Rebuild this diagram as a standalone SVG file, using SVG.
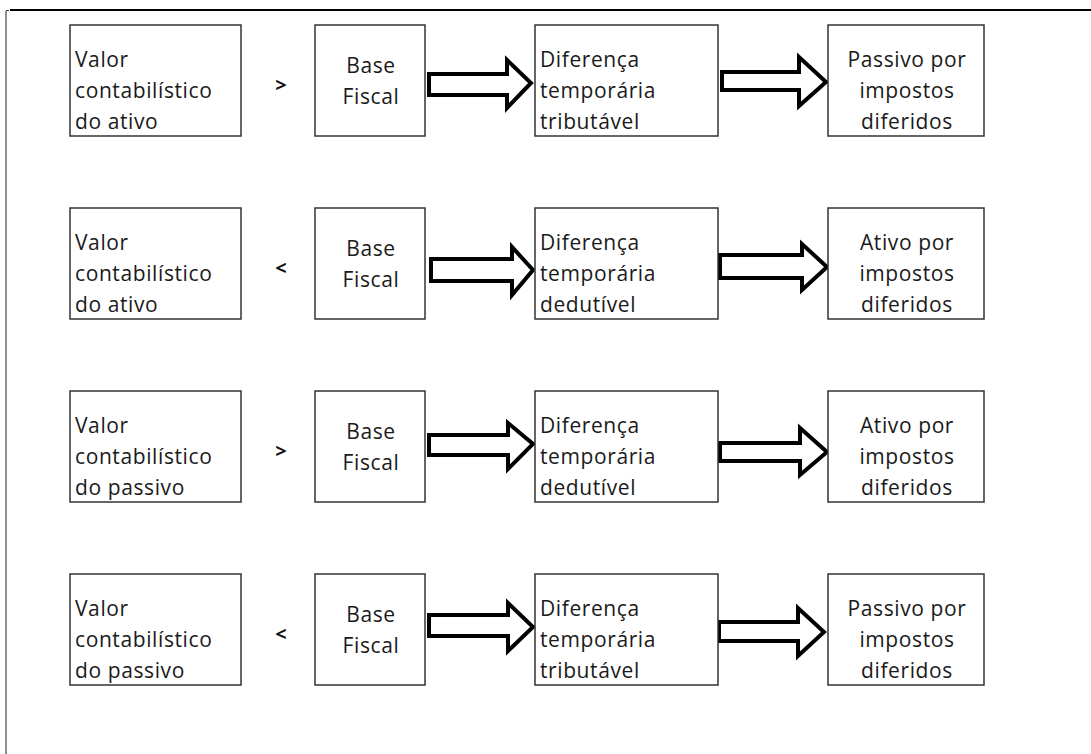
<svg xmlns="http://www.w3.org/2000/svg" width="1091" height="754" viewBox="0 0 1091 754">
<style>
.box{fill:#fff;stroke:#333;stroke-width:1.5}
.t{font-family:"Open Sans","Noto Sans",sans-serif;font-size:21px;letter-spacing:0.6px;fill:#1a1a1a}
.c{text-anchor:middle}
.op{font-family:"Open Sans",sans-serif;font-size:20px;font-weight:bold;fill:#111;text-anchor:middle}
.arr{fill:#fff;stroke:#000;stroke-width:4;stroke-linejoin:miter}
</style>
<rect width="1091" height="754" fill="#fff"/>
<g id="frame">
<line x1="6" y1="11" x2="6" y2="754" stroke="#444" stroke-width="1.2"/>
<line x1="6" y1="10.5" x2="9" y2="10.5" stroke="#444" stroke-width="1"/>
<line x1="10" y1="10" x2="1091" y2="10" stroke="#000" stroke-width="2"/>
</g>
<g id="connectors">
<polygon class="arr" points="429,74 507,74 507,60 531,83 507,108 507,95 429,95"/>
<polygon class="arr" points="722,72 799,72 799,57 826,82 799,106 799,90 722,90"/>
<polygon class="arr" points="431,259 512,259 512,247 533,270 512,295 512,281 431,281"/>
<polygon class="arr" points="720,255 802,255 802,244 827,267 802,290 802,278 720,278"/>
<polygon class="arr" points="429,435 508,435 508,423 533,444 508,469 508,455 429,455"/>
<polygon class="arr" points="720,443 800,443 800,428 827,452 800,475 800,461 720,461"/>
<polygon class="arr" points="429,615 508,615 508,603 533,627 508,651 508,636 429,636"/>
<polygon class="arr" points="719,622 798,622 798,608 824,632 798,656 798,641 719,641"/>
</g>
<g id="r1c1"><rect class="box" x="70" y="25" width="171" height="111"/><text class="t" x="75" y="67">Valor</text><text class="t" x="75" y="98">contabilístico</text><text class="t" x="75" y="129">do ativo</text></g>
<text id="op1" class="op" x="281" y="92">&gt;</text>
<g id="r1c2"><rect class="box" x="315" y="25" width="110" height="111"/><text class="t c" x="371" y="73">Base</text><text class="t c" x="371" y="104">Fiscal</text></g>
<g id="r1c3"><rect class="box" x="535" y="25" width="183" height="111"/><text class="t" x="540" y="67">Diferença</text><text class="t" x="540" y="98">temporária</text><text class="t" x="540" y="129">tributável</text></g>
<g id="r1c4"><rect class="box" x="828" y="25" width="156" height="111"/><text class="t c" x="907" y="67">Passivo por</text><text class="t c" x="907" y="98">impostos</text><text class="t c" x="907" y="129">diferidos</text></g>

<g id="r2c1"><rect class="box" x="70" y="208" width="171" height="111"/><text class="t" x="75" y="250">Valor</text><text class="t" x="75" y="281">contabilístico</text><text class="t" x="75" y="312">do ativo</text></g>
<text id="op2" class="op" x="281" y="275">&lt;</text>
<g id="r2c2"><rect class="box" x="315" y="208" width="110" height="111"/><text class="t c" x="371" y="256">Base</text><text class="t c" x="371" y="287">Fiscal</text></g>
<g id="r2c3"><rect class="box" x="535" y="208" width="183" height="111"/><text class="t" x="540" y="250">Diferença</text><text class="t" x="540" y="281">temporária</text><text class="t" x="540" y="312">dedutível</text></g>
<g id="r2c4"><rect class="box" x="828" y="208" width="156" height="111"/><text class="t c" x="907" y="250">Ativo por</text><text class="t c" x="907" y="281">impostos</text><text class="t c" x="907" y="312">diferidos</text></g>

<g id="r3c1"><rect class="box" x="70" y="391" width="171" height="111"/><text class="t" x="75" y="433">Valor</text><text class="t" x="75" y="464">contabilístico</text><text class="t" x="75" y="495">do passivo</text></g>
<text id="op3" class="op" x="281" y="458">&gt;</text>
<g id="r3c2"><rect class="box" x="315" y="391" width="110" height="111"/><text class="t c" x="371" y="439">Base</text><text class="t c" x="371" y="470">Fiscal</text></g>
<g id="r3c3"><rect class="box" x="535" y="391" width="183" height="111"/><text class="t" x="540" y="433">Diferença</text><text class="t" x="540" y="464">temporária</text><text class="t" x="540" y="495">dedutível</text></g>
<g id="r3c4"><rect class="box" x="828" y="391" width="156" height="111"/><text class="t c" x="907" y="433">Ativo por</text><text class="t c" x="907" y="464">impostos</text><text class="t c" x="907" y="495">diferidos</text></g>

<g id="r4c1"><rect class="box" x="70" y="574" width="171" height="111"/><text class="t" x="75" y="616">Valor</text><text class="t" x="75" y="647">contabilístico</text><text class="t" x="75" y="678">do passivo</text></g>
<text id="op4" class="op" x="281" y="641">&lt;</text>
<g id="r4c2"><rect class="box" x="315" y="574" width="110" height="111"/><text class="t c" x="371" y="622">Base</text><text class="t c" x="371" y="653">Fiscal</text></g>
<g id="r4c3"><rect class="box" x="535" y="574" width="183" height="111"/><text class="t" x="540" y="616">Diferença</text><text class="t" x="540" y="647">temporária</text><text class="t" x="540" y="678">tributável</text></g>
<g id="r4c4"><rect class="box" x="828" y="574" width="156" height="111"/><text class="t c" x="907" y="616">Passivo por</text><text class="t c" x="907" y="647">impostos</text><text class="t c" x="907" y="678">diferidos</text></g>
</svg>
